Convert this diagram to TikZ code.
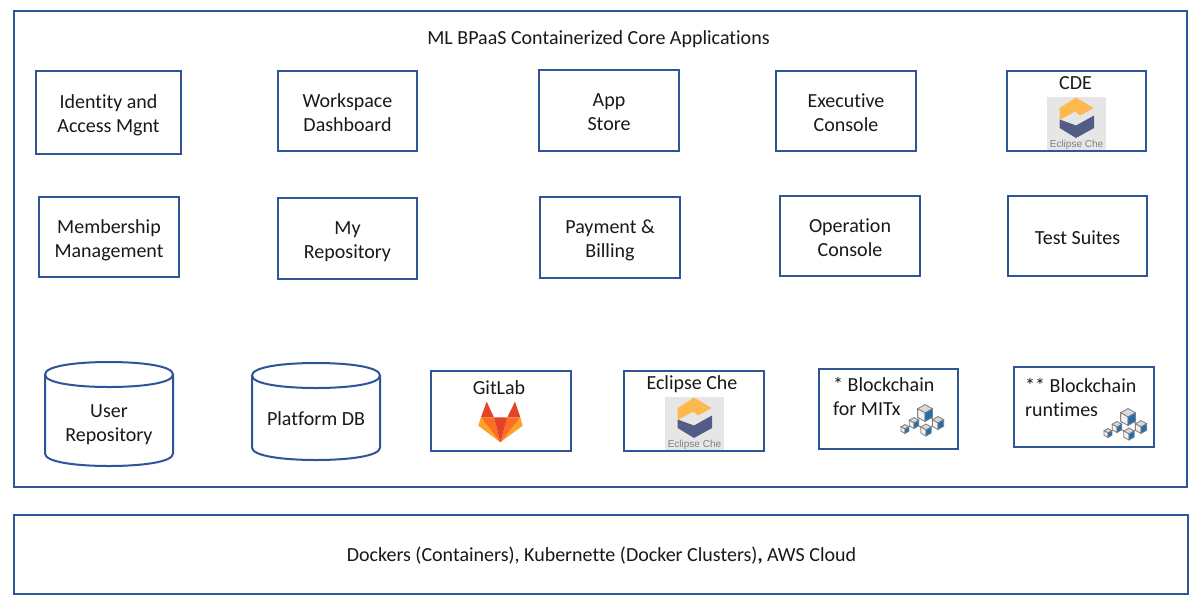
\documentclass[tikz,border=0pt]{standalone}
\usepackage{fontspec}
\setmainfont[Ligatures=NoCommon]{Carlito}
\newfontfamily\iconfont{Liberation Sans}
\definecolor{boxblue}{HTML}{2F5597}
\definecolor{cheorange}{HTML}{FDB94E}
\definecolor{cheblue}{HTML}{525C86}
\definecolor{chegrey}{HTML}{E6E6E6}
\definecolor{glred}{HTML}{E24329}
\definecolor{glmid}{HTML}{FC6D26}
\definecolor{glout}{HTML}{FCA326}
\definecolor{cubeblue}{HTML}{1F6FB5}
\definecolor{cubeedge}{HTML}{7F7F7F}
\tikzset{
  x=1pt,y=-1pt,
  every node/.style={font=\fontsize{20}{24}\selectfont,text=black!90,align=center,inner sep=0pt},
  boxnode/.style={draw=boxblue,line width=2pt,fill=white,rectangle},
  boxlabel/.style={text depth=0pt,yshift=-1.5pt},
  dbline/.style={draw=boxblue,line width=2pt,fill=white},
  chetext/.style={font=\iconfont\fontsize{10}{10}\selectfont,text=black!50}
}
\newcommand{\cheicon}[2]{%
  \begin{scope}[shift={(#1,#2)}]
    \fill[chegrey] (0,0) rectangle (59,53);
    \fill[cheblue] (12.7,22.5) -- (29,28.5) -- (47,18.5) -- (47,31) -- (29,41) -- (12.7,31) -- cycle;
    \fill[cheorange] (12.7,11) -- (29,0.5) -- (46.7,11) -- (33,18.5) -- (28,14.5) -- (12.7,23) -- cycle;
    \node[chetext] at (29.5,47.5) {Eclipse Che};
  \end{scope}}
\newcommand{\cubeicon}[3]{%
  \begin{scope}[shift={(#1,#2)},scale=#3,line width=0.8pt]
    \fill[white!85!black,draw=cubeedge] (0,-1) -- (0.87,-0.5) -- (0,0) -- (-0.87,-0.5) -- cycle;
    \fill[white!95!black,draw=cubeedge] (-0.87,-0.5) -- (0,0) -- (0,1) -- (-0.87,0.5) -- cycle;
    \fill[cubeblue,draw=cubeedge] (0.87,-0.5) -- (0,0) -- (0,1) -- (0.87,0.5) -- cycle;
  \end{scope}}
\newcommand{\chainicon}[2]{%
  \begin{scope}[shift={(#1,#2)}]
    \draw[cubeedge,line width=0.8pt] (0,0) -- (13,10) (0,0) -- (-11,10) -- (1,17) -- (13,10) (-11,10) -- (-20,16);
    \cubeicon{0}{0}{8.5}
    \cubeicon{13}{10}{6.5}
    \cubeicon{1}{17}{6}
    \cubeicon{-11}{10}{5.5}
    \cubeicon{-20}{16}{4.5}
  \end{scope}}
% name, centre x, centre y, width, height, text
\newcommand{\labelledbox}[6]{%
  \node[boxnode,minimum width=#4pt,minimum height=#5pt] (#1) at (#2,#3) {};
  \node[boxlabel] (#1text) at (#1) {#6};}
% left, top, right, bottom, depth of the end curve
\newcommand{\dbshape}[5]{%
  \draw[dbline] (#1,#2+#5) .. controls (#1,#2+0.3*#5) and ({#1+0.25*(#3-#1)},#2) .. ({(#1+#3)/2},#2)
     .. controls ({#3-0.25*(#3-#1)},#2) and (#3,#2+0.3*#5) .. (#3,#2+#5)
     -- (#3,#4-#5)
     .. controls (#3,#4-0.3*#5) and ({#3-0.25*(#3-#1)},#4) .. ({(#1+#3)/2},#4)
     .. controls ({#1+0.25*(#3-#1)},#4) and (#1,#4-0.3*#5) .. (#1,#4-#5) -- cycle;
  \draw[boxblue,line width=2pt] (#1,#2+#5) .. controls (#1,#2+1.7*#5) and ({#1+0.25*(#3-#1)},#2+2*#5) .. ({(#1+#3)/2},#2+2*#5)
     .. controls ({#3-0.25*(#3-#1)},#2+2*#5) and (#3,#2+1.7*#5) .. (#3,#2+#5);}
\begin{document}
\begin{tikzpicture}
\useasboundingbox (0,0) rectangle (1203,606);
\node[boxnode,minimum width=1173pt,minimum height=476pt] (core) at (600.5,249) {};
\node[boxnode,minimum width=1174pt,minimum height=79pt] (infra) at (601,554.5) {};
\node (coretitle) at (598.5,39) {ML BPaaS Containerized Core Applications};
\node (infratext) at (601.5,555.5) {Dockers (Containers), Kubernette (Docker Clusters){\bfseries ,} AWS Cloud};
% row 1
\labelledbox{iam}{108.5}{112.5}{145}{83}{Identity and\\Access Mgnt}
\labelledbox{wsd}{347.5}{111}{139}{80}{Workspace\\Dashboard}
\labelledbox{app}{609}{110.5}{140}{81}{App\\Store}
\labelledbox{exe}{846}{111}{140}{80}{Executive\\Console}
\node[boxnode,minimum width=139pt,minimum height=80pt] (cde) at (1076.5,111) {};
\cheicon{1047}{97}
\node (cdetext) at (1075.5,83) {CDE};
% row 2
\labelledbox{mem}{109}{237}{140}{80}{Membership\\Management}
\labelledbox{repo}{347.5}{238.5}{139}{81}{My\\Repository}
\labelledbox{pay}{610}{237.5}{140}{81}{Payment \&\\Billing}
\labelledbox{ops}{850}{236}{140}{80}{Operation\\Console}
\labelledbox{test}{1077.5}{236}{139}{80}{Test Suites}
% row 3
\dbshape{45}{362}{173}{466}{12.5}
\node (usertext) at (109,425) {User\\Repository};
\dbshape{252}{363}{380}{460}{12.5}
\node (plattext) at (316,419) {Platform DB};
\node[boxnode,minimum width=140pt,minimum height=80pt] (git) at (501,411) {};
\node (gittext) at (499,388) {GitLab};
\begin{scope}[shift={(420,360)},x=0.3333pt,y=-0.3333pt]
  \fill[glred] (200,125) -- (183,172) -- (222,172) -- cycle;
  \fill[glred] (285,125) -- (301,172) -- (262,172) -- cycle;
  \fill[glout] (183,172) -- (175,197) -- (241,247) -- cycle;
  \fill[glout] (301,172) -- (308,197) -- (241,247) -- cycle;
  \fill[glmid] (183,172) -- (222,172) -- (241,247) -- cycle;
  \fill[glmid] (301,172) -- (262,172) -- (241,247) -- cycle;
  \fill[glred] (222,172) -- (262,172) -- (241,247) -- cycle;
\end{scope}
\node[boxnode,minimum width=140pt,minimum height=80pt] (che) at (694,411) {};
\cheicon{665}{397}
\node (chetitle) at (692,384) {Eclipse Che};
\node[boxnode,minimum width=139pt,minimum height=80pt] (mitx) at (888.5,409) {};
\node[anchor=west] (mitxa) at (833,384) {* Blockchain};
\node[anchor=west] (mitxb) at (833,408.5) {for MITx};
\chainicon{925}{413}
\node[boxnode,minimum width=140pt,minimum height=80pt] (run) at (1084,407) {};
\node[anchor=west] (runa) at (1025,385) {** Blockchain};
\node[anchor=west] (runb) at (1025,409.5) {runtimes};
\chainicon{1128}{417}
\end{tikzpicture}
\end{document}
